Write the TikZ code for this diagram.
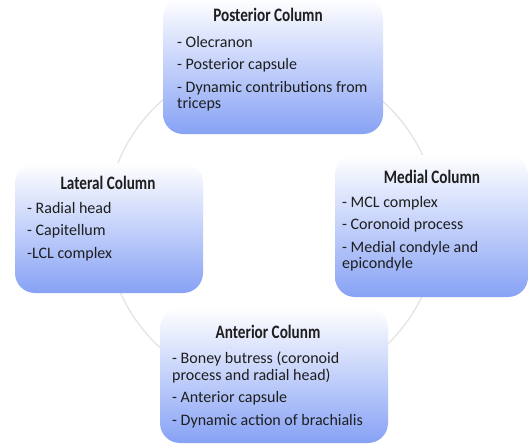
\documentclass[tikz,border=0pt]{standalone}
\usepackage{fontspec}
\setmainfont{Carlito}
\newfontfamily\narrowfont[FakeStretch=0.8]{Carlito}
\usetikzlibrary{positioning}
\definecolor{boxblue}{RGB}{135,162,245}
\definecolor{ringgray}{RGB}{228,228,228}
\definecolor{txtgray}{RGB}{30,30,30}
\begin{document}
\begin{tikzpicture}[x=1pt, y=-1pt,
    column/.style={rounded corners=20pt, top color=white, middle color=boxblue!40, bottom color=boxblue, inner sep=0pt},
    coltitle/.style={text=txtgray, font=\narrowfont\fontsize{19}{21}\selectfont\bfseries, inner sep=0pt},
    colitems/.style={text=txtgray, font=\fontsize{16}{16.5}\selectfont, align=left, anchor=north west, inner sep=0pt}]
    \useasboundingbox[fill=white] (0,0) rectangle (529,445);

    % ring behind the four columns
    \coordinate (ctr) at (272,225);
    \draw[ringgray, line width=1.3pt] (ctr) circle (166pt);

    \node[column, minimum width=220pt, minimum height=136pt] (post) at (273,66) {};
    \node[column, minimum width=188pt, minimum height=130pt] (lat) at (109,228) {};
    \node[column, minimum width=193pt, minimum height=142pt] (med) at (431.5,226) {};
    \node[column, minimum width=228pt, minimum height=135pt] (ant) at (274,375.5) {};

    \node[coltitle] (postT) at (268,15) {Posterior Column};
    \node[coltitle] (latT) at (108,183) {Lateral Column};
    \node[coltitle] (medT) at (432,177) {Medial Column};
    \node[coltitle] (antT) at (268,332) {Anterior Colunm};

    \node[colitems] (postL) at (177,36) {- Olecranon\\[6pt]
        - Posterior capsule\\[6pt]
        - Dynamic contributions from\\triceps};
    \node[colitems] (latL) at (27,202) {- Radial head\\[6pt]
        - Capitellum\\[6pt]
        -LCL complex};
    \node[colitems] (medL) at (342,196) {- MCL complex\\[6pt]
        - Coronoid process\\[6pt]
        - Medial condyle and\\epicondyle};
    \node[colitems] (antL) at (172,352) {- Boney butress (coronoid\\process and radial head)\\[6pt]
        - Anterior capsule\\[6pt]
        - Dynamic action of brachialis};
\end{tikzpicture}
\end{document}
